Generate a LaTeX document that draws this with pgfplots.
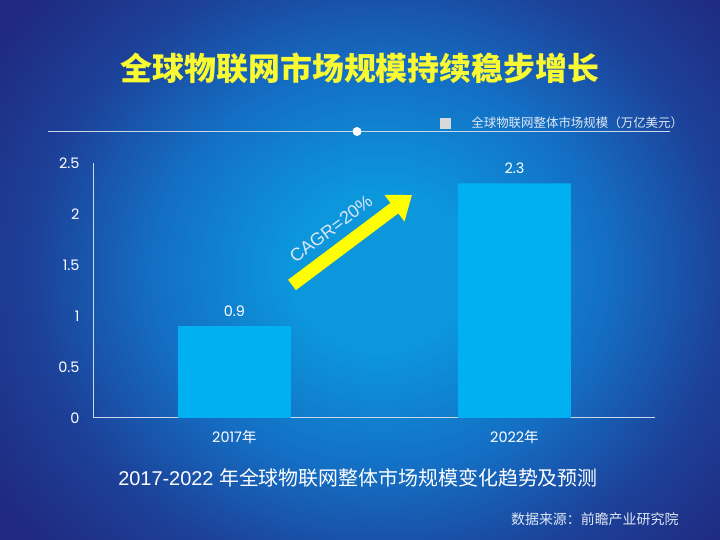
\documentclass[border=0pt]{standalone}
\usepackage{fontspec}
\usepackage{pgfplots}
\pgfplotsset{compat=1.18}
\usetikzlibrary{arrows.meta}
\setmainfont{Liberation Sans}
\newfontfamily\cjk{Noto Sans CJK SC}
\newfontfamily\pop{Poppins}
\newfontfamily\lib{Liberation Sans}
\definecolor{c0}{RGB}{12,150,220}
\definecolor{c1}{RGB}{20,110,195}
\definecolor{c2}{RGB}{29,64,152}
\definecolor{c3}{RGB}{31,42,128}
\definecolor{barblue}{RGB}{0,176,240}
\definecolor{titleyellow}{RGB}{250,250,50}
\definecolor{arrowyellow}{RGB}{255,255,0}
\definecolor{legendgray}{RGB}{217,217,217}
\definecolor{legtext}{RGB}{222,232,244}
\definecolor{linecol}{RGB}{205,215,235}
\pgfdeclareradialshading{bgshade}{\pgfpoint{0bp}{0bp}}{color(0bp)=(c0); color(6bp)=(c0); color(15bp)=(c1); color(23bp)=(c2); color(30bp)=(c3); color(50bp)=(c3)}
\begin{document}
\begin{tikzpicture}[x=1bp,y=1bp]
\useasboundingbox (0,0) rectangle (720,540);
\begin{scope}
\clip (0,0) rectangle (720,540);
\shade[shading=bgshade] (0,-70) rectangle (760,610);
\end{scope}
% title
\node[text=titleyellow, font=\cjk\bfseries\fontsize{32}{32}\selectfont] at (360,472) {全球物联网市场规模持续稳步增长};
\draw[linecol, line width=1bp] (48,408.5) -- (670,408.5);
\fill[white] (357,408.5) circle (4.5);
\begin{axis}[
  at={(93bp,122bp)}, anchor=south west,
  scale only axis, width=562bp, height=255bp,
  xmin=-0.505, xmax=1.502, ymin=0, ymax=2.5,
  axis x line*=bottom, axis y line*=left,
  axis line style={linecol, line width=1bp},
  major tick length=0pt,
  xtick={0,1},
  xticklabels={{\pop 2017\cjk 年},{\pop 2022\cjk 年}},
  ytick={0,0.5,1,1.5,2,2.5},
  yticklabels={0,0.5,1,1.5,2,2.5},
  /pgf/number format/assume math mode=true,
  tick label style={font=\pop\fontsize{14.5}{14.5}\selectfont, text=white},
  yticklabel style={xshift=-10bp},
  xticklabel style={yshift=-9bp},
  legend style={at={(0.617,1.157)}, anchor=west, draw=none, fill=none, inner sep=0pt,
    font=\cjk\fontsize{12.5}{12.5}\selectfont, text=legtext,
    nodes={inner sep=0pt}},
  clip=false,
]
\addplot[ybar, bar width=113bp, fill=barblue, draw=none, forget plot,
  nodes near coords,
  nodes near coords style={font=\pop\fontsize{14.5}{14.5}\selectfont, text=white, anchor=center, inner sep=0pt, yshift=15bp},
  /pgf/number format/fixed, /pgf/number format/precision=1]
  coordinates {(0,0.9) (1,2.3)};
\addlegendimage{legend image code/.code={\fill[legendgray] (0bp,-5bp) rectangle (10bp,5bp); \path (31bp,0bp);}}
\addlegendentry{全球物联网整体市场规模（万亿美元）}
\end{axis}
% CAGR arrow
\draw[arrowyellow, line width=13bp, -{Triangle[width=32bp,length=22bp]}] (292,255) -- (412,345);
\node[rotate=37, text=legtext, font=\lib\fontsize{18}{18}\selectfont] at (331,311) {CAGR=20\%};
% subtitle and source
\node[text=white, font=\fontsize{20}{20}\selectfont] at (358,62) {\lib 2017-2022 \cjk 年全球物联网整体市场规模变化趋势及预测};
\node[anchor=east, text=legtext, font=\cjk\fontsize{14}{14}\selectfont] at (682,21) {数据来源：前瞻产业研究院};
\end{tikzpicture}
\end{document}
